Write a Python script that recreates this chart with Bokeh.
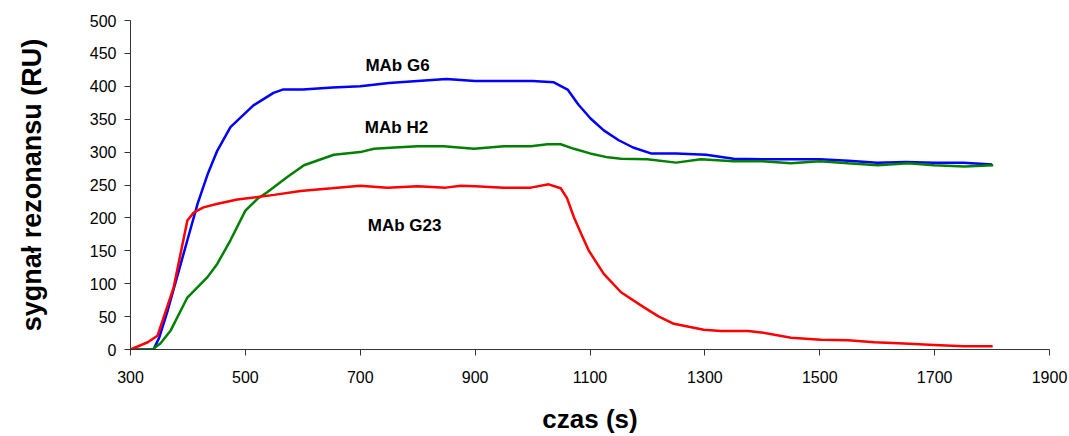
from bokeh.plotting import figure
from bokeh.models import FixedTicker
from bokeh.core.properties import value
from bokeh.embed import file_html
from bokeh.resources import INLINE

# ---- data ----
g6_x = [300, 340, 350, 365, 381, 399, 417, 435, 451, 474, 514, 549, 565, 600, 652, 700, 750, 800, 850, 900,
        950, 1000, 1037, 1061, 1080, 1101, 1124, 1150, 1175, 1206, 1250, 1302, 1350, 1400, 1450, 1500, 1550,
        1600, 1650, 1700, 1750, 1800]
g6_y = [0, 0, 18, 60, 110, 166, 222, 268, 302, 338, 371, 390, 395, 395, 398, 400, 405, 408, 411, 408,
        408, 408, 406, 395, 372, 351, 333, 318, 307, 298, 298, 296, 290, 289, 289, 289, 287,
        284, 285, 284, 284, 281]

h2_x = [300, 338, 352, 370, 399, 434, 451, 474, 500, 521, 538, 573, 602, 654, 700, 724, 760, 800, 845, 898,
        950, 997, 1026, 1049, 1072, 1100, 1131, 1154, 1200, 1250, 1293, 1350, 1400, 1450, 1500, 1549, 1601,
        1654, 1699, 1752, 1802]
h2_y = [0, 0, 9, 29, 79, 110, 130, 166, 211, 229, 239, 262, 280, 296, 300, 305, 307, 309, 309, 305,
        309, 309, 312, 312, 305, 298, 292, 290, 289, 284, 289, 286, 286, 283, 286, 283, 280,
        283, 280, 278, 280]

g23_x = [300, 330, 347, 357, 375, 399, 410, 427, 450, 486, 550, 596, 650, 700, 747, 800, 849, 875, 900, 950,
         997, 1028, 1049, 1060, 1072, 1085, 1098, 1124, 1154, 1194, 1220, 1246, 1298, 1328, 1375, 1398, 1450,
         1502, 1549, 1595, 1647, 1699, 1751, 1801]
g23_y = [0, 11, 21, 47, 94, 196, 208, 216, 221, 228, 235, 241, 245, 249, 246, 248, 246, 249, 248, 246,
         246, 251, 245, 230, 201, 175, 150, 115, 87, 64, 50, 39, 30, 28, 28, 26, 18,
         15, 14, 11, 9, 7, 5, 5]

label_texts = ["MAb G6", "MAb H2", "MAb G23"]
label_x = [709, 708, 713]
label_y = [432, 337, 188]

x_ticks = [300, 500, 700, 900, 1100, 1300, 1500, 1700, 1900]
y_ticks = [0, 50, 100, 150, 200, 250, 300, 350, 400, 450, 500]

x_title = "czas (s)"
y_title = "sygnał rezonansu (RU)"

FONT = "Liberation Sans"

p = figure(width=1069, height=436, output_backend="svg", toolbar_location=None,
           x_range=(300, 1900), y_range=(0, 500),
           min_border_left=130, min_border_right=20, min_border_top=20, min_border_bottom=87)
p.outline_line_color = None
p.xgrid.visible = False
p.ygrid.visible = False

p.line(g6_x, g6_y, line_color="#0000FF", line_width=2.5)
p.line(h2_x, h2_y, line_color="#008000", line_width=2.5)
p.line(g23_x, g23_y, line_color="#FF0000", line_width=2.5)

p.text(x=label_x, y=label_y, text=label_texts, text_font=value(FONT), text_font_style="bold",
       text_font_size="17px", text_color="black", text_baseline="alphabetic", text_align="left")

for ax in (p.xaxis[0], p.yaxis[0]):
    ax.axis_line_color = "#333333"
    ax.axis_line_width = 1
    ax.major_tick_line_color = "#333333"
    ax.major_tick_in = 0
    ax.major_tick_out = 6
    ax.minor_tick_line_color = None
    ax.major_label_text_font = FONT
    ax.major_label_text_font_size = "16px"
    ax.major_label_text_color = "black"
    ax.axis_label_text_font = FONT
    ax.axis_label_text_font_style = "bold"
    ax.axis_label_text_color = "black"

p.xaxis[0].ticker = FixedTicker(ticks=x_ticks)
p.yaxis[0].ticker = FixedTicker(ticks=y_ticks)
p.xaxis[0].axis_label = x_title
p.yaxis[0].axis_label = y_title
p.xaxis[0].axis_label_text_font_size = "26px"
p.yaxis[0].axis_label_text_font_size = "27px"
p.xaxis[0].major_label_standoff = 15
p.yaxis[0].major_label_standoff = 8
p.xaxis[0].axis_label_standoff = 18
p.yaxis[0].axis_label_standoff = 40

open("out.html", "w").write(file_html(p, INLINE))
